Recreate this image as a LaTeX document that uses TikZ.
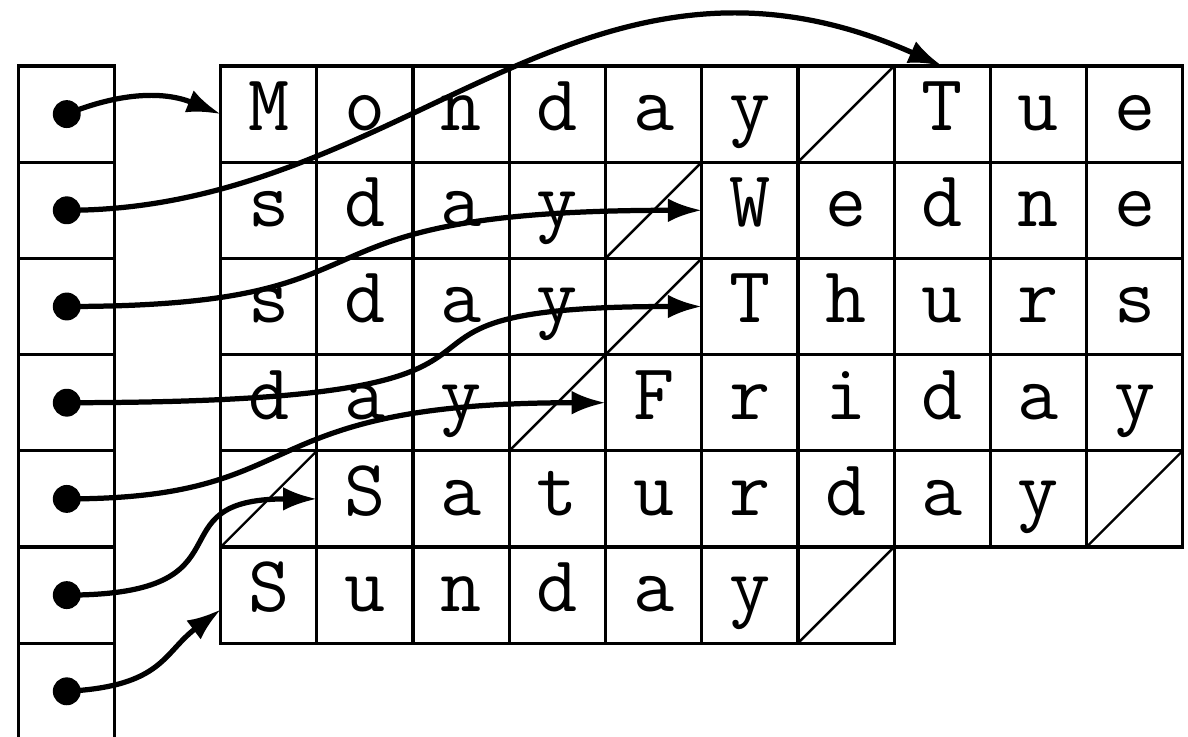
\documentclass[tikz,border=0pt]{standalone}
\usepackage{tikz}
\usetikzlibrary{arrows.meta}

% one row of character cells: row number, letters ({} = empty cell)
\newcommand{\cellrow}[2]{%
  \foreach \chr [count=\k] in {#2}
    \node[cell] (c-#1-\k) at (\gx+\k-0.5,0.5-#1) {\chr};
}

\begin{document}
\begin{tikzpicture}[
  cell/.style={draw,line width=0.95pt,minimum size=1cm,inner sep=0pt,outer sep=0pt,
    text height=0.67cm,text depth=0.33cm,
    font=\ttfamily\fontsize{23.6}{28}\selectfont},
  slot/.style={draw,line width=0.95pt,minimum size=1cm,inner sep=0pt,outer sep=0pt},
  dot/.style={circle,fill,inner sep=0pt,minimum size=0.29cm},
  slash/.style={line width=0.7pt},
  ptr/.style={line width=1.55pt,-{Latex[length=10pt,width=7pt]}}]
  \useasboundingbox (-0.194,0.686) rectangle (12.155,-6.975);
  % Grid origin
  \def\gx{2.1}
  % Pointer column
  \foreach \r in {1,...,7} {
    \node[slot] (s-\r) at (0.5,0.5-\r) {};
    \node[dot] (d-\r) at (s-\r) {};
  }
  % Character rows
  \cellrow{1}{M,o,n,d,a,y,{},T,u,e}
  \cellrow{2}{s,d,a,y,{},W,e,d,n,e}
  \cellrow{3}{s,d,a,y,{},T,h,u,r,s}
  \cellrow{4}{d,a,y,{},F,r,i,d,a,y}
  \cellrow{5}{{},S,a,t,u,r,d,a,y,{}}
  \cellrow{6}{S,u,n,d,a,y,{}}
  % String terminators
  \foreach \r/\k in {1/7,2/5,3/5,4/4,5/1,5/10,6/7}
    \draw[slash] (c-\r-\k.south west) -- (c-\r-\k.north east);
  % Pointers
  \draw[ptr] (d-1.center) to[bend left=22] (c-1-1.west);
  \draw[ptr] (d-2.center) to[out=0,in=156,out distance=3.5cm,in distance=4.1cm] (c-1-8.north);
  \draw[ptr] (d-3.center) to[out=0,in=180,out distance=3.7cm,in distance=4.6cm] (c-2-6.west);
  \draw[ptr] (d-4.center) to[out=0,in=180,out distance=5.9cm,in distance=4.2cm] (c-3-6.west);
  \draw[ptr] (d-5.center) to[out=0,in=180,out distance=2.6cm,in distance=3.8cm] (c-4-5.west);
  \draw[ptr] (d-6.center) to[out=0,in=180,out distance=2cm,in distance=1.75cm] (c-5-2.west);
  \draw[ptr] (d-7.center) to[out=3,in=217,out distance=1cm,in distance=0.75cm] ([yshift=-0.15cm]c-6-1.west);
\end{tikzpicture}
\end{document}
